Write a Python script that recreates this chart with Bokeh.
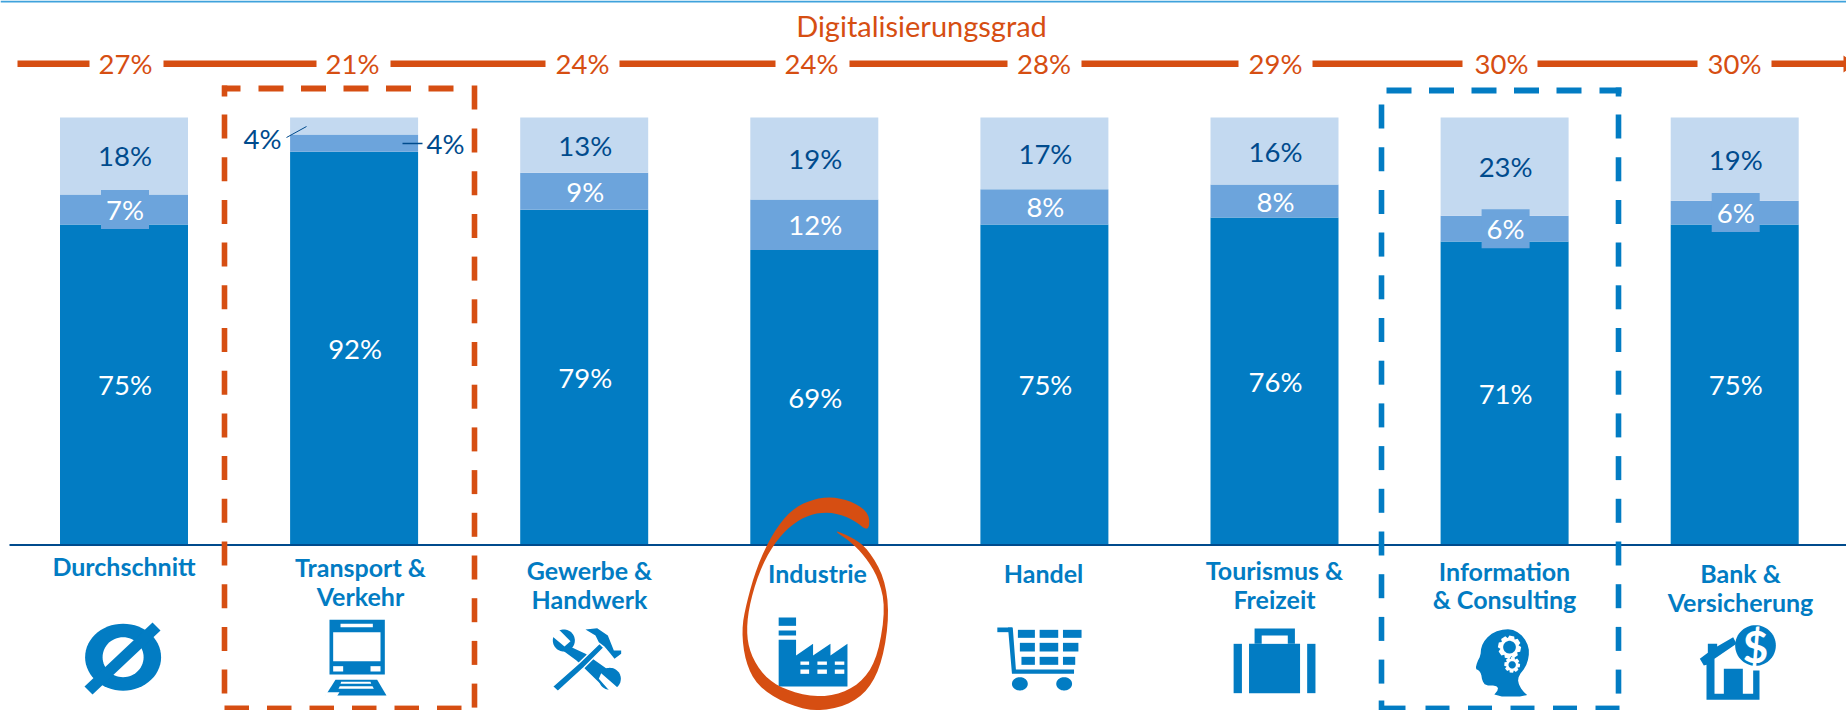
import math
from bokeh.plotting import figure
from bokeh.models import Range1d
from bokeh.embed import file_html
from bokeh.resources import INLINE
from bokeh.core.properties import value

# ---------- data ----------
categories = [["Durchschnitt"], ["Transport &", "Verkehr"], ["Gewerbe &", "Handwerk"], ["Industrie"],
              ["Handel"], ["Tourismus &", "Freizeit"], ["Information", "& Consulting"], ["Bank &", "Versicherung"]]
dark_values = [75, 92, 78.4, 69, 75, 76.6, 71, 75]
mid_values = [7, 4, 8.7, 11.8, 8.2, 7.7, 6, 5.5]
light_values = [18, 4, 12.9, 19.2, 16.8, 15.7, 23, 19.5]
dark_labels = ["75%", "92%", "79%", "69%", "75%", "76%", "71%", "75%"]
mid_labels = ["7%", "", "9%", "12%", "8%", "8%", "6%", "6%"]
light_labels = ["18%", "", "13%", "19%", "17%", "16%", "23%", "19%"]
grade_labels = ["27%", "21%", "24%", "24%", "28%", "29%", "30%", "30%"]
title_text = "Digitalisierungsgrad"

# ---------- palette / layout ----------
DARK, MID, LIGHT = "#027CC3", "#6CA4DC", "#C3D9F0"
ORANGE, NAVY, TOPLINE = "#D64E12", "#004B8D", "#3FA2DC"
W, H = 1846, 710
X0, PITCH, BARW = 123.5, 230.1, 128.0
BASE, UNIT = 544.5, 4.275
FONT = value("Lato")


def X(px):
    return (px - X0) / PITCH


def Y(py):
    return (BASE - py) / UNIT


p = figure(width=W, height=H, output_backend="svg", toolbar_location=None,
           x_range=Range1d(X(0), X(W)), y_range=Range1d(Y(H), Y(0)),
           min_border=0, outline_line_color=None, background_fill_color="white")
p.axis.visible = False
p.grid.visible = False


def poly(pts, color=DARK, ox=0.0, oy=0.0, sx=1.0, sy=1.0, line=None, lw=0):
    xs = [X(ox + a / sx) for a, b in pts]
    ys = [Y(oy + b / sy) for a, b in pts]
    p.patch(xs, ys, fill_color=color, line_color=line, line_width=lw)


def rect(x1, y1, x2, y2, color=DARK, ox=0.0, oy=0.0, sx=1.0, sy=1.0):
    poly([(x1, y1), (x2, y1), (x2, y2), (x1, y2)], color, ox, oy, sx, sy)


def circle(cx, cy, rx, ry=None):
    ry = rx if ry is None else ry
    return [(cx + rx * math.cos(t * math.pi / 30), cy + ry * math.sin(t * math.pi / 30)) for t in range(60)]


def gear(cx, cy, r1, r2, teeth=8, phase=0.0):
    pts = []
    step = 2 * math.pi / teeth
    for k in range(teeth):
        a = phase + k * step
        for da, r in [(-0.30, r1), (-0.17, r2), (0.17, r2), (0.30, r1)]:
            pts.append((cx + r * math.cos(a + da * step * 1.6), cy + r * math.sin(a + da * step * 1.6)))
    return pts


def chaikin(pts, n=2):
    for _ in range(n):
        out = []
        for i in range(len(pts)):
            a, b = pts[i], pts[(i + 1) % len(pts)]
            out.append((0.75 * a[0] + 0.25 * b[0], 0.75 * a[1] + 0.25 * b[1]))
            out.append((0.25 * a[0] + 0.75 * b[0], 0.25 * a[1] + 0.75 * b[1]))
        pts = out
    return pts


# ---------- top rule ----------
rect(0, 0, W, 2, TOPLINE)

# ---------- stacked bars ----------
idx = list(range(len(categories)))
wd = BARW / PITCH
mid_bottom = dark_values
mid_top = [a + b for a, b in zip(dark_values, mid_values)]
light_top = [a + b for a, b in zip(mid_top, light_values)]
p.vbar(x=idx, width=wd, bottom=0, top=dark_values, fill_color=DARK, line_color=None)
p.vbar(x=idx, width=wd, bottom=mid_bottom, top=mid_top, fill_color=MID, line_color=None)
p.vbar(x=idx, width=wd, bottom=mid_top, top=light_top, fill_color=LIGHT, line_color=None)

# label plates on the thin segments
plates = [0, 6, 7]
p.rect(x=[i + 1 / PITCH for i in plates], y=[dark_values[i] + mid_values[i] / 2 for i in plates],
       width=48, height=39, width_units="screen", height_units="screen",
       fill_color=MID, line_color=None)

# axis line
p.segment(X(9), 0, X(W), 0, line_color=NAVY, line_width=2)


def labels(xs, ys, txt, color, size="27.5px", style="normal", align="center"):
    p.text(x=xs, y=ys, text=txt, text_color=color, text_font=FONT, text_font_size=size,
           text_align=align, text_baseline="middle", text_font_style=style)


lx = [i + 1 / PITCH for i in idx]
labels(lx, [v / 2 for v in dark_values], dark_labels, "white")
labels(lx, [a + b / 2 for a, b in zip(dark_values, mid_values)], mid_labels, "white")
labels(lx, [a + b / 2 for a, b in zip(mid_top, light_values)], light_labels, NAVY)

# small-segment call-outs of "Transport & Verkehr"
labels([X(262)], [Y(137.5)], ["4%"], NAVY)
labels([X(445)], [Y(142.5)], ["4%"], NAVY)
p.segment(X(286), Y(137), X(306), Y(126), line_color=NAVY, line_width=1)
p.segment(X(402), Y(143), X(422), Y(143), line_color=NAVY, line_width=1.5)

# ---------- Digitalisierungsgrad band ----------
labels([X(921)], [Y(25)], [title_text], ORANGE, size="29px")
grade_x = [125, 352, 582, 811, 1043.5, 1275, 1501, 1734]
labels([X(v) for v in grade_x], [Y(63)] * 8, grade_labels, ORANGE)
for a, b in [(17, 89), (163, 316), (390, 545), (619, 775), (849, 1007), (1081, 1238), (1312, 1462), (1537, 1697), (1771, 1844)]:
    rect(a, 60, b, 66.5, ORANGE)
poly([(1843, 55), (1843, 72), (1855, 63)], ORANGE)


# ---------- dashed boxes ----------
def dashes(color, horiz, vert):
    for y, a, b in horiz:
        rect(a, y - 2.9, b, y + 2.9, color)
    for x, a, b in vert:
        rect(x - 2.8, a, x + 2.8, b, color)


PV = 42.7
PH = 42.5
# orange box
dashes(ORANGE,
       [(88, 221.5, 240)] + [(88, 258 + PH * k, 283 + PH * k) for k in range(5)] + [(708, 224 + PH * k, 248.5 + PH * k) for k in range(6)],
       [(224, 85, 96)] + [(224, 114 + PV * k, 138 + PV * k) for k in range(14)] + [(474, 85, 109)] + [(474, 128 + PV * k, 152 + PV * k) for k in range(14)])
# blue box
dashes(DARK,
       [(90, 1386 + PH * k, 1411 + PH * k) for k in range(5)] + [(90, 1599, 1621)] + [(708, 1381, 1405)] + [(708, 1425 + PH * k, 1449 + PH * k) for k in range(5)],
       [(1381, 104 + PV * k, 128 + PV * k) for k in range(14)] + [(1381, 700, 710), (1618, 87, 96)] + [(1618, 114 + PV * k, 138 + PV * k) for k in range(14)])

# ---------- category names ----------
name_x = [123.5, 360, 589, 817, 1043, 1274, 1504, 1740]
name_y = [[565], [566, 595], [569, 598], [572], [572], [569, 598], [570, 598], [572, 601]]
for cx, ys, lines in zip(name_x, name_y, categories):
    labels([X(cx)] * len(lines), [Y(v) for v in ys], lines, DARK, size="25px", style="bold")

# ---------- icons ----------
# average sign
poly(circle(122.6, 656.7, 38, 33.5))
poly(circle(122.6, 656.7, 20.5, 20), "white")
poly([(152, 622), (160, 630), (92, 694), (84, 686)])

# train
o = dict(ox=320, oy=610, sx=3, sy=3)
rect(27, 28, 193, 192, **o)
rect(60, 40, 157, 50, "white", **o)
rect(38, 65, 180, 152, "white", **o)
rect(38, 167, 68, 183, "white", **o)
rect(150, 167, 180, 183, "white", **o)
poly([(15, 255), (45, 208), (170, 208), (198, 255)], **o)
poly([(58, 227), (156, 227), (160, 235), (54, 235)], "white", **o)
poly([(12, 245), (52, 245), (44, 258), (8, 258)], "white", 320 + 5 / 3, 610, 3, 3)
poly([(62, 214), (150, 214), (152, 220), (60, 220)], "white", **o)

# tools
o = dict(ox=530, oy=610, sx=3, sy=3)
poly(circle(100, 90, 33), **o)
poly(circle(238, 205, 33), **o)
poly([(118, 108), (165, 130), (250, 190), (215, 225), (138, 150), (90, 115)], **o)
poly([(88, 60), (120, 92), (102, 108), (66, 78), (62, 50)], "white", **o)
poly([(212, 188), (262, 232), (278, 245), (250, 256), (205, 205)], "white", **o)
poly([(66, 228), (145, 158), (207, 98), (220, 112), (160, 172), (82, 243)], line="white", lw=1.5, **o)
poly([(165, 57), (200, 53), (232, 75), (250, 120), (272, 120), (272, 130), (252, 145), (240, 130),
      (222, 108), (205, 95), (195, 75)], **o)

# factory
o = dict(ox=620, oy=480, sx=2.529, sy=3)
rect(400, 411, 444, 436, **o)
rect(400, 450, 444, 465, **o)
poly([(400, 478), (444, 478), (444, 525), (487, 490), (487, 525), (531, 490), (531, 525), (574, 490), (574, 618), (400, 618)], **o)
for wx1, wx2 in [(455, 477), (498, 522), (542, 566)]:
    rect(wx1, 543, wx2, 553, "white", **o)
    rect(wx1, 567, wx2, 580, "white", **o)

# shopping cart
rect(953, 441, 990, 455, **o)
poly([(980, 441), (992, 441), (1000, 567), (1147, 567), (1147, 580), (990, 580)], **o)
for (y1, y2), ls, rs in [((448, 472), 1005, 1166), ((487, 513), 1010, 1158), ((529, 553), 1014, 1150)]:
    rect(ls, y1, 1048, y2, **o)
    rect(1060, y1, 1107, y2, **o)
    rect(1119, y1, rs, y2, **o)
poly(circle(1010, 610, 20, 20), **o)
poly(circle(1122, 610, 20, 20), **o)

# suitcase
o = dict(ox=1226, oy=520, sx=2.529, sy=3)
rect(18, 370, 39, 518, **o)
rect(204, 370, 225, 518, **o)
rect(57, 370, 186, 518, **o)
rect(71, 324, 173, 370, **o)
rect(89, 345, 155, 370, "white", **o)

# head with gears
o = dict(ox=1460, oy=620, sx=3, sy=3)
poly(chaikin([(97, 228), (115, 205), (105, 195), (75, 195), (65, 180), (62, 160), (55, 150), (45, 145), (50, 125),
              (60, 105), (62, 80), (75, 55), (100, 35), (135, 25), (165, 30), (190, 50), (205, 80), (205, 110),
              (195, 140), (175, 165), (172, 185), (185, 210), (205, 228)], 1), **o)
poly(gear(147, 80, 28, 35, 8, 0.2), "white", **o)
poly(circle(147, 80, 19), **o)
poly(gear(155, 133, 18, 24, 8, 0.1), "white", **o)
poly(circle(155, 133, 11), **o)

# house with dollar coin
o = dict(ox=1690, oy=615, sx=3, sy=3)
poly([(28, 130), (52, 112), (52, 85), (80, 85), (80, 93), (128, 65), (138, 85), (72, 130), (72, 235), (100, 235),
      (100, 160), (157, 160), (157, 235), (188, 235), (188, 165), (207, 165), (207, 253), (48, 253), (48, 148), (40, 150)], **o)
poly(circle(195, 90, 61), **o)
p.text(x=[X(1690 + 195 / 3)], y=[Y(615 + 90 / 3)], text=["$"], text_color="white", text_font=FONT,
       text_font_size="44px", text_font_style="bold", text_align="center", text_baseline="middle")

# ---------- hand-drawn ring around Industrie ----------
ring = [(628, 155), (630, 100), (590, 65), (535, 48), (480, 58), (430, 90), (385, 158), (345, 258), (318, 370),
        (306, 450), (316, 545), (346, 615), (410, 665), (490, 694), (572, 676), (628, 628), (663, 540), (680, 400),
        (667, 290), (627, 208), (590, 173), (535, 146), (580, 182), (618, 227), (652, 292), (670, 380), (652, 520),
        (618, 596), (560, 640), (490, 650), (412, 626), (362, 586), (328, 520), (318, 450), (328, 360), (358, 252),
        (398, 174), (442, 124), (490, 98), (540, 96), (590, 118)]
poly(chaikin(ring, 2), ORANGE, ox=620, oy=480, sx=2.529, sy=3)

open("out.html", "w").write(file_html(p, INLINE))
